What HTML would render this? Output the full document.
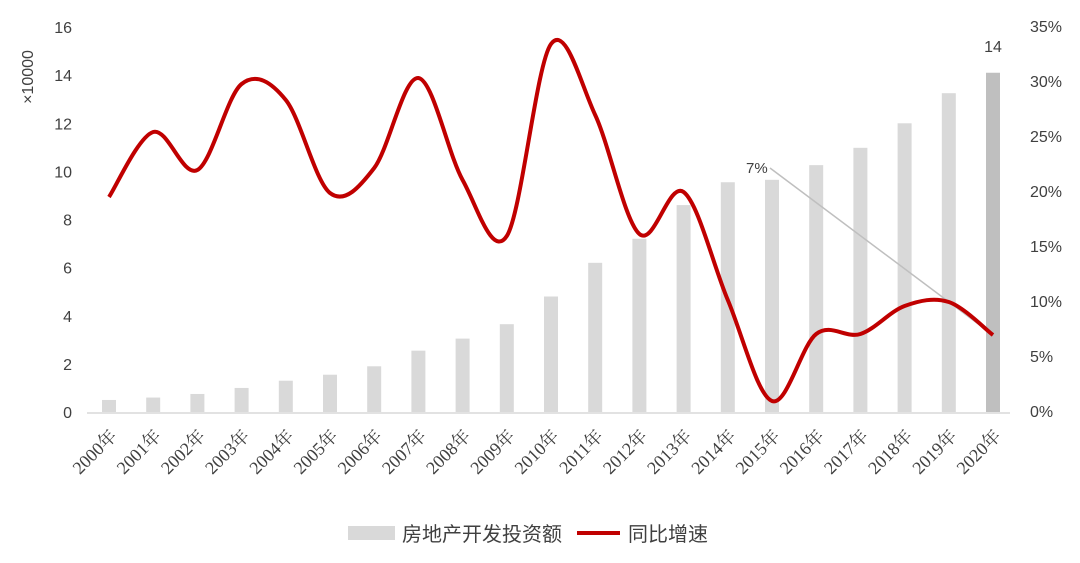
<!DOCTYPE html><html><head><meta charset="utf-8"><style>body{margin:0;background:#fff}svg{display:block;font-family:"Liberation Sans","Noto Sans CJK SC",sans-serif}</style></head><body>
<svg id="s" width="1080" height="563" xmlns="http://www.w3.org/2000/svg"></svg>
<script>
var s=document.getElementById('s'),h='';
var bars=[0.5,0.6,0.75,1.0,1.3,1.55,1.9,2.55,3.05,3.65,4.8,6.2,7.2,8.6,9.55,9.65,10.26,10.98,12.0,13.25,14.1];
var ly=[197,132,170,84,100,193,168,78,180,236,44,115,234,192,300,401,334,334,306,302,335];
function X(i){return 109+44.2*i}
h+='<line x1="87" y1="413" x2="1010" y2="413" stroke="#d9d9d9" stroke-width="1.5"/>';
for(var i=0;i<21;i++){var t=412-bars[i]*24.06;h+='<rect x="'+(X(i)-7)+'" y="'+t+'" width="14" height="'+(412-t)+'" fill="'+(i==20?'#bfbfbf':'#d9d9d9')+'"/>';
h+='<text transform="translate('+(X(i)+9)+',437) rotate(-45)" text-anchor="end" font-size="18" font-family="Liberation Serif,Noto Serif CJK SC,serif" fill="#404040">'+(2000+i)+'年</text>';}
for(var v=0;v<=16;v+=2){h+='<text x="72" y="'+(418-v*24.06)+'" text-anchor="end" font-size="16" fill="#404040">'+v+'</text>';}
for(var p=0;p<=35;p+=5){h+='<text x="1030" y="'+(417-p*11)+'" font-size="16" fill="#404040">'+p+'%</text>';}
h+='<text transform="translate(33,77) rotate(-90)" text-anchor="middle" font-size="16" fill="#404040">×10000</text>';
h+='<line x1="770" y1="168" x2="993" y2="335" stroke="#bfbfbf" stroke-width="1.5"/><text x="746" y="173" font-size="15" fill="#404040">7%</text>';
h+='<text x="993" y="52" text-anchor="middle" font-size="16" fill="#404040">14</text>';
var d='M'+X(0)+','+ly[0];
for(var i=0;i<20;i++){var p0=i>0?i-1:i,p3=i<19?i+2:i+1;
var c1x=X(i)+(X(i+1)-X(p0))/6,c1y=ly[i]+(ly[i+1]-ly[p0])/6,c2x=X(i+1)-(X(p3)-X(i))/6,c2y=ly[i+1]-(ly[p3]-ly[i])/6;
d+=' C'+c1x+','+c1y+' '+c2x+','+c2y+' '+X(i+1)+','+ly[i+1];}
h+='<path d="'+d+'" fill="none" stroke="#c00000" stroke-width="4"/>';
h+='<rect x="348" y="526" width="47" height="14" fill="#d9d9d9"/><text x="402" y="541" font-size="20" fill="#404040">房地产开发投资额</text>';
h+='<line x1="577" y1="533" x2="620" y2="533" stroke="#c00000" stroke-width="4"/><text x="628" y="541" font-size="20" fill="#404040">同比增速</text>';
s.innerHTML=h;
</script></body></html>
